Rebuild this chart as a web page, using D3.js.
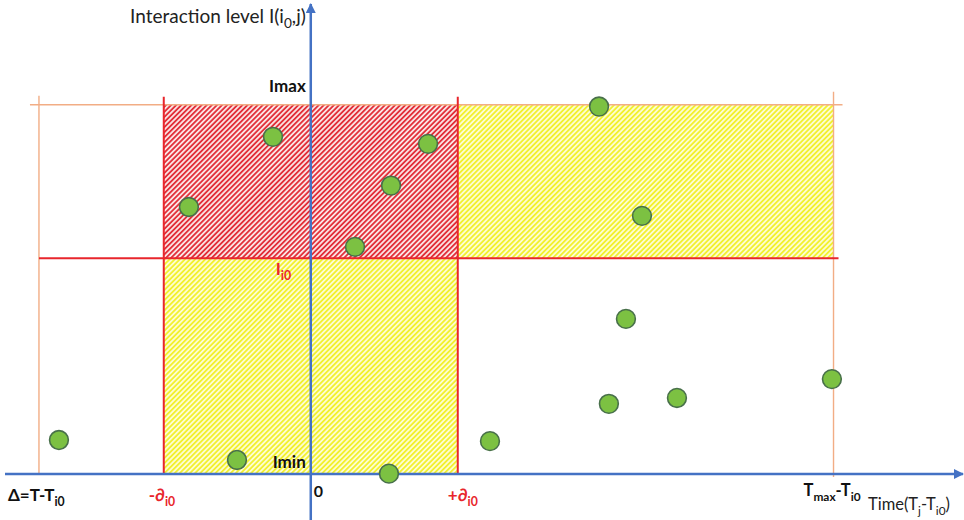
<!DOCTYPE html>
<html>
<head>
<meta charset="utf-8">
<script src="https://cdn.jsdelivr.net/npm/d3@7"></script>
<style>
  body { margin: 0; background: #fff; }
  text { font-family: Lato, "Open Sans", sans-serif; }
</style>
</head>
<body>
<div id="chart"></div>
<script>
// Valeurs
const pointTime = [-1.713, -0.502, 0.532, 1.219, -0.829, -0.257, 0.546, 0.798, 0.301, 1.961, 2.253, 2.144, 2.028, 2.491, 3.545];
const pointLevel = [0.092, 0.038, 0.001, 0.089, 0.723, 0.913, 0.781, 0.894, 0.615, 0.995, 0.699, 0.420, 0.190, 0.206, 0.257];

// repères
const deltaT = -1.849;   // Δ=T-Ti0
const dMinus = -1;       // -∂i0
const dPlus = 1;         // +∂i0
const tMax = 3.556;      // Tmax-Ti0
const iMin = 0, iRef = 0.584, iMax = 1;

const width = 964, height = 520;

const x = d3.scaleLinear().domain([-2.08, 4.43]).range([5, 962]);
const y = d3.scaleLinear().domain([0, 1.27]).range([474, 5]);

const svg = d3.select("#chart").append("svg")
    .attr("width", width)
    .attr("height", height);

const defs = svg.append("defs");

function hatch(id, bg, stripe) {
    const p = defs.append("pattern")
        .attr("id", id)
        .attr("patternUnits", "userSpaceOnUse")
        .attr("width", 3.6).attr("height", 3.6)
        .attr("patternTransform", "rotate(45)");
    p.append("rect").attr("width", 3.6).attr("height", 3.6).attr("fill", bg);
    p.append("line").attr("x1", 0.9).attr("y1", 0).attr("x2", 0.9).attr("y2", 3.6)
        .attr("stroke", stripe).attr("stroke-width", 1.8);
}
hatch("hRed", "#fbe3e3", "#e2303a");
hatch("hYellow", "#fdfdd0", "#f2f030");

// Zones
svg.append("rect")
    .attr("x", x(dMinus)).attr("y", y(iMax))
    .attr("width", x(dPlus) - x(dMinus)).attr("height", y(iRef) - y(iMax))
    .attr("fill", "url(#hRed)");
svg.append("rect")
    .attr("x", x(dMinus)).attr("y", y(iRef))
    .attr("width", x(dPlus) - x(dMinus)).attr("height", y(iMin) - y(iRef))
    .attr("fill", "url(#hYellow)");
svg.append("rect")
    .attr("x", x(dPlus)).attr("y", y(iMax))
    .attr("width", x(tMax) - x(dPlus)).attr("height", y(iRef) - y(iMax))
    .attr("fill", "url(#hYellow)");

// Lignes orange
const orange = "#f2ad85";
svg.append("line")
    .attr("x1", x(deltaT) - 9).attr("x2", x(tMax) + 9)
    .attr("y1", y(iMax)).attr("y2", y(iMax))
    .attr("stroke", orange).attr("stroke-width", 1.6);
svg.append("line")
    .attr("x1", x(deltaT)).attr("x2", x(deltaT))
    .attr("y1", y(iMax) - 9).attr("y2", y(iMin))
    .attr("stroke", orange).attr("stroke-width", 1.4);
svg.append("line")
    .attr("x1", x(tMax)).attr("x2", x(tMax))
    .attr("y1", y(iMax) - 13).attr("y2", y(iMin) + 3)
    .attr("stroke", orange).attr("stroke-width", 1.4);

// Lignes rouges
const red = "#e8262c";
svg.append("line")
    .attr("x1", x(deltaT)).attr("x2", x(tMax) + 5)
    .attr("y1", y(iRef)).attr("y2", y(iRef))
    .attr("stroke", red).attr("stroke-width", 2);
[dMinus, dPlus].forEach(d => {
    svg.append("line")
        .attr("x1", x(d)).attr("x2", x(d))
        .attr("y1", y(iMax) - 8).attr("y2", y(iMin))
        .attr("stroke", red).attr("stroke-width", 2);
});

// Axes
const blue = "#4472c4";
defs.append("marker")
    .attr("id", "arrow")
    .attr("viewBox", "0 0 10 10")
    .attr("refX", 9).attr("refY", 5)
    .attr("markerWidth", 4).attr("markerHeight", 4)
    .attr("markerUnits", "strokeWidth")
    .attr("orient", "auto")
    .append("path").attr("d", "M0,0 L10,5 L0,10 z").attr("fill", blue);

svg.append("line")
    .attr("x1", 5).attr("x2", 963)
    .attr("y1", y(0)).attr("y2", y(0))
    .attr("stroke", blue).attr("stroke-width", 2.5)
    .attr("marker-end", "url(#arrow)");
svg.append("line")
    .attr("x1", x(0)).attr("x2", x(0))
    .attr("y1", height).attr("y2", 4)
    .attr("stroke", blue).attr("stroke-width", 2.5)
    .attr("marker-end", "url(#arrow)");

// Points
svg.selectAll(".dot")
    .data(pointTime.map((t, i) => ({ t: t, v: pointLevel[i] })))
    .enter().append("circle")
    .attr("class", "dot")
    .attr("cx", d => x(d.t))
    .attr("cy", d => y(d.v))
    .attr("r", 9.4)
    .attr("fill", "#7cc142")
    .attr("stroke", "#48704a")
    .attr("stroke-width", 1.6);

// Textes
function label(px, py, parts, opts) {
    const t = svg.append("text")
        .attr("x", px).attr("y", py)
        .attr("font-size", opts.size)
        .attr("font-weight", opts.bold ? "bold" : "normal")
        .attr("fill", opts.color || "#111")
        .attr("text-anchor", opts.anchor || "start");
    parts.forEach(p => {
        const s = t.append("tspan").text(p.s);
        if (p.sub) s.attr("dy", opts.size * 0.28).attr("font-size", opts.size * 0.72);
        if (p.back) s.attr("dy", -opts.size * 0.28);
    });
    return t;
}

label(x(0) - 5, 23, [{ s: "Interaction level I(i" }, { s: "0", sub: true }, { s: ",j)", back: true }],
    { size: 19, anchor: "end", color: "#222" });
label(x(0) - 5, y(iMax) - 13, [{ s: "Imax" }], { size: 17, bold: true, anchor: "end" });
label(x(0) - 35, y(iRef) + 17, [{ s: "I" }, { s: "i0", sub: true }], { size: 17, bold: true, color: red });
label(x(0) - 5, y(iMin) - 6, [{ s: "Imin" }], { size: 17, bold: true, anchor: "end" });
label(x(0) + 3, y(0) + 23, [{ s: "0" }], { size: 16, bold: true });
label(8, y(0) + 27, [{ s: "Δ=T-T" }, { s: "i0", sub: true }], { size: 17, bold: true });
label(x(dMinus) - 15, y(0) + 27, [{ s: "-∂" }, { s: "i0", sub: true }], { size: 17, bold: true, color: red });
label(x(dPlus) - 10, y(0) + 27, [{ s: "+∂" }, { s: "i0", sub: true }], { size: 17, bold: true, color: red });
label(x(tMax) - 30, y(0) + 22, [{ s: "T" }, { s: "max", sub: true }, { s: "-T", back: true }, { s: "i0", sub: true }],
    { size: 16.5, bold: true });
label(868, y(0) + 36, [{ s: "Time(T" }, { s: "j", sub: true }, { s: "-T", back: true }, { s: "i0", sub: true }, { s: ")", back: true }],
    { size: 16.5, color: "#222" });
</script>
</body>
</html>
